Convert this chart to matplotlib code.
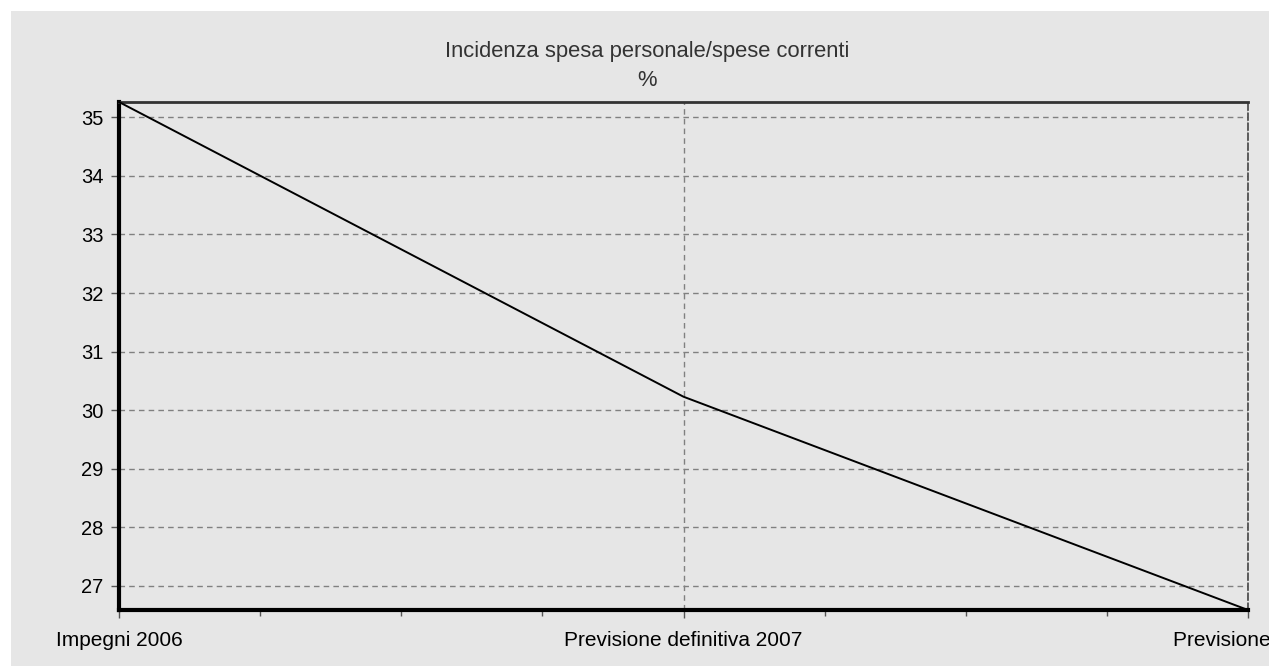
import matplotlib
matplotlib.use("Agg")
import matplotlib.pyplot as plt
from matplotlib.patches import Rectangle
from matplotlib.ticker import MultipleLocator

categories = ["Impegni 2006", "Previsione definitiva 2007", "Previsione 2008"]
values = [35.26, 30.23, 26.59]
y_ticks = [27, 28, 29, 30, 31, 32, 33, 34, 35]
title = "Incidenza spesa personale/spese correnti\n%"

plt.rcParams['font.family'] = ['Liberation Sans', 'DejaVu Sans']

W, H = 1269, 668
fig = plt.figure(figsize=(W / 100, H / 100), dpi=100, facecolor="white")
bg = Rectangle((11 / W, 2 / H), 1 - 11 / W, 1 - 13 / H,
               transform=fig.transFigure, facecolor="#e6e6e6",
               edgecolor="none", zorder=-10)
fig.add_artist(bg)

ax = fig.add_axes([119 / W, 1 - 610 / H, (1248 - 119) / W, (610 - 102) / H])
ax.set_facecolor("#e6e6e6")

x = list(range(len(categories)))
ax.plot(x, values, color="black", lw=1.4, zorder=3, clip_on=False)

ax.set_xlim(0, len(categories) - 1)
ax.set_ylim(min(values), max(values))
ax.set_xticks(x)
ax.set_xticklabels(categories, fontsize=15)
ax.xaxis.set_minor_locator(MultipleLocator(0.25))
ax.set_yticks(y_ticks)

ax.grid(True, which="major", axis="both", color="#808080", linestyle=(0, (4, 3)), lw=1)
ax.set_axisbelow(True)

for s in ["left", "bottom"]:
    ax.spines[s].set_linewidth(3)
    ax.spines[s].set_color("black")
ax.spines["top"].set_linewidth(2)
ax.spines["top"].set_color("#333333")
ax.spines["right"].set_linewidth(1.2)
ax.spines["right"].set_color("#444444")
ax.spines["right"].set_linestyle((0, (4, 2)))

ax.tick_params(axis="both", which="major", direction="out", length=6, width=1,
               color="#555555", labelcolor="black")
ax.tick_params(axis="y", which="major", labelsize=14.5, pad=5)
ax.tick_params(axis="x", which="major", pad=9)
ax.tick_params(axis="x", which="minor", direction="out", length=4, width=1, color="#555555")

fig.text(647 / W, 1 - 66 / H, title, ha="center", va="center", fontsize=15.8,
         color="#333333", linespacing=1.5)

fig.savefig("out.png", dpi=100, facecolor="white")
